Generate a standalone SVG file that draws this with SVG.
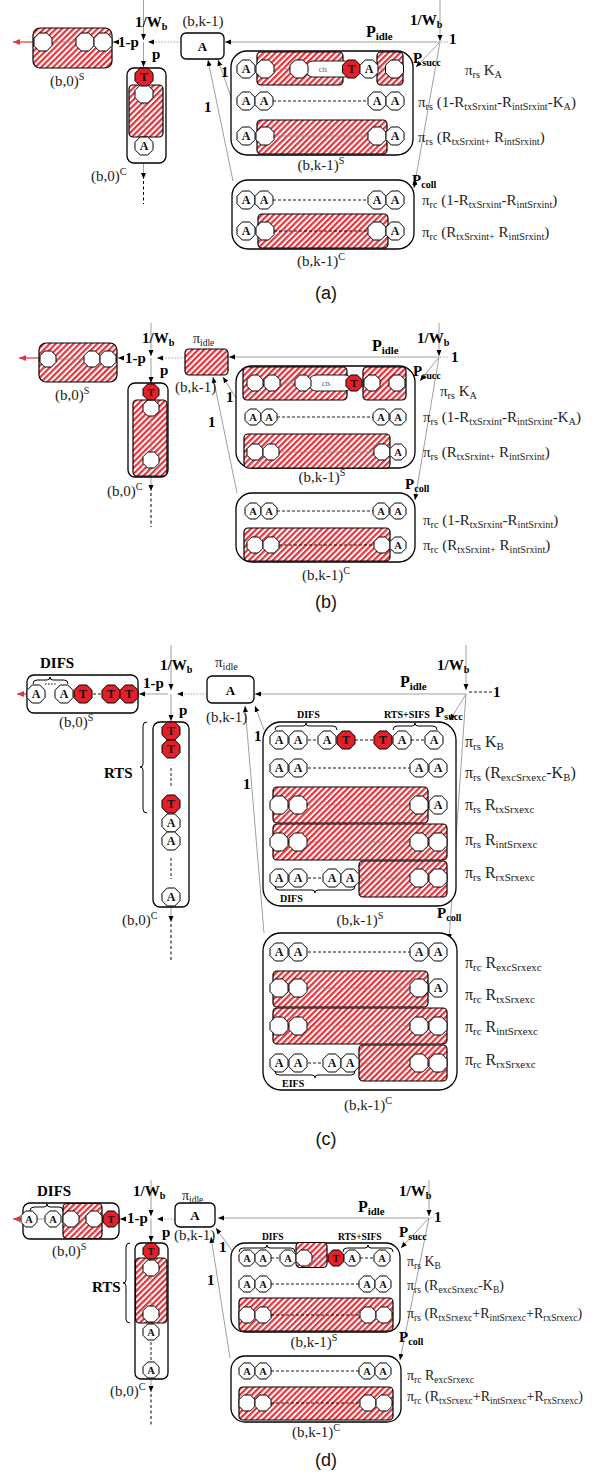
<svg xmlns="http://www.w3.org/2000/svg" xmlns:xlink="http://www.w3.org/1999/xlink" width="601" height="1474" viewBox="0 0 601 1474">
<defs>
<pattern id="h" width="4.2" height="4.2" patternUnits="userSpaceOnUse" patternTransform="rotate(45)"><rect width="4.2" height="4.2" fill="#fff"/><rect width="2.2" height="4.2" fill="#e8323a"/></pattern>
<polygon id="oL" points="3.73,-9 9,-3.73 9,3.73 3.73,9 -3.73,9 -9,3.73 -9,-3.73 -3.73,-9"/>
<polygon id="oM" points="3.31,-8 8,-3.31 8,3.31 3.31,8 -3.31,8 -8,3.31 -8,-3.31 -3.31,-8"/>
<marker id="ar" viewBox="0 0 6 6" refX="6" refY="3" markerWidth="6" markerHeight="6" markerUnits="userSpaceOnUse" orient="auto"><path d="M0,0.5 L6,3 L0,5.5 z" fill="#000"/></marker>
<marker id="arr" viewBox="0 0 6 6" refX="6" refY="3" markerWidth="7" markerHeight="7" markerUnits="userSpaceOnUse" orient="auto"><path d="M0,0.5 L6,3 L0,5.5 z" fill="#e8323a"/></marker>
<style>
.w{fill:#fff;stroke:#000;stroke-width:1}
.r{fill:#e3202a;stroke:#000;stroke-width:1}
.bx{fill:#fff;stroke:#000;stroke-width:1.3}
.hb{fill:url(#h);stroke:#000;stroke-width:1.2}
.ln{stroke:#a0a0a0;stroke-width:1;fill:none}
.dt{stroke:#a0a0a0;stroke-width:1;stroke-dasharray:1.5 1.5;fill:none}
.ds{stroke:#000;stroke-width:0.9;stroke-dasharray:3 2;fill:none}
.dv{stroke:#000;stroke-width:1;stroke-dasharray:3 2.5;fill:none}
.gl{stroke:#8a8a8a;stroke-width:0.8;fill:none}
.gd{stroke:#8a8a8a;stroke-width:0.8;stroke-dasharray:3 2;fill:none}
.red{stroke:#e8323a;stroke-width:1.2;fill:none}
.br{stroke:#000;stroke-width:1;fill:none}
.t{font-family:"Liberation Serif","Times New Roman",serif;fill:#222}
.l{font-size:15px}
.b{font-weight:bold;fill:#000}
.s{font-size:68%}
.m{text-anchor:middle}
.oa{font-family:"Liberation Serif","Times New Roman",serif;font-weight:bold;font-size:12px;text-anchor:middle;fill:#111}
.om{font-size:10.5px}
.cap{font-family:"Liberation Sans",Arial,sans-serif;font-size:18px;text-anchor:middle;fill:#111}
.cts{font-family:"Liberation Serif",serif;font-size:7.5px;fill:#555;text-anchor:middle}
</style>
</defs>
<rect width="601" height="1474" fill="#fff"/>

<!-- ================= PANEL (a) ================= -->
<g id="a-connectors">
<line class="ln" x1="143.5" y1="0" x2="143.5" y2="40" marker-end="url(#ar)"/>
<line class="dt" x1="181" y1="42" x2="148" y2="42" marker-end="url(#ar)"/>
<line class="ln" x1="143.5" y1="42" x2="143.5" y2="67" marker-end="url(#ar)"/>
<line class="ln" x1="118" y1="42" x2="113" y2="42" marker-end="url(#ar)"/>
<line class="red" x1="33" y1="42" x2="13" y2="42" marker-end="url(#arr)"/>
<line class="ln" x1="143.5" y1="163" x2="143.5" y2="179" marker-end="url(#ar)"/>
<line class="dv" x1="143.5" y1="181" x2="143.5" y2="204"/>
<line class="ln" x1="440" y1="0" x2="440" y2="41" marker-end="url(#ar)"/>
<line class="dt" x1="441" y1="42" x2="448" y2="42"/>
<line class="ln" x1="440" y1="42" x2="225" y2="42" marker-end="url(#ar)"/>
<line class="ln" x1="440" y1="42" x2="416" y2="67" marker-end="url(#ar)"/>
<line class="ln" x1="440" y1="42" x2="414" y2="188" marker-end="url(#ar)"/>
<line class="ln" x1="232" y1="100" x2="218" y2="60" marker-end="url(#ar)"/>
<line class="ln" x1="233" y1="181" x2="208" y2="60" marker-end="url(#ar)"/>
</g>
<g id="a-b0S">
<rect class="hb" x="33" y="28" width="79" height="40" rx="7"/>
<line class="gl" x1="52" y1="42" x2="76" y2="42"/>
<use href="#oL" class="w" x="43" y="42"/>
<use href="#oL" class="w" x="85" y="42"/>
<use href="#oL" class="w" x="103" y="42"/>
<text class="t l" x="50" y="86">(b,0)<tspan class="s" dy="-6">S</tspan></text>
</g>
<g id="a-b0C">
<rect class="bx" x="127" y="68" width="39" height="95" rx="7"/>
<rect class="hb" x="129" y="85" width="34" height="52" rx="4"/>
<line class="gl" x1="144" y1="104" x2="144" y2="128"/>
<use href="#oL" class="w" x="144" y="94"/>
<use href="#oL" class="r" x="144" y="77"/><text class="oa" x="144" y="81.2">T</text>
<use href="#oL" class="w" x="144" y="146"/><text class="oa" x="144" y="150.2">A</text>
<text class="t l" x="91" y="181">(b,0)<tspan class="s" dy="-6">C</tspan></text>
</g>
<g id="a-idle">
<rect class="bx" x="181" y="33" width="43" height="26" rx="5"/>
<text class="t b m" x="202.5" y="50.5" font-size="13">A</text>
<text class="t l m" x="203" y="26">(b,k-1)</text>
</g>
<g id="a-kS">
<rect class="bx" x="231" y="51" width="182" height="104" rx="16"/>
<rect class="hb" x="257" y="52" width="86" height="33" rx="4"/>
<rect class="hb" x="377" y="52" width="26" height="33" rx="4"/>
<line class="gl" x1="274" y1="69" x2="290" y2="69"/>
<line class="gl" x1="378" y1="69" x2="386" y2="69"/>
<use href="#oL" class="w" x="246" y="69"/><text class="oa" x="246" y="73.2">A</text>
<use href="#oL" class="w" x="265" y="69"/>
<rect x="306" y="61" width="46" height="16" rx="7" fill="#fff" stroke="#000" stroke-width="0.9"/>
<text class="cts" x="323" y="72">cts</text>
<use href="#oL" class="w" x="299" y="69"/>
<use href="#oL" class="r" x="351.5" y="69"/><text class="oa" x="351.5" y="73.2">T</text>
<use href="#oL" class="w" x="369" y="69"/><text class="oa" x="369" y="73.2">A</text>
<use href="#oL" class="w" x="394.5" y="69"/>
<line class="ds" x1="273" y1="101" x2="368" y2="101"/>
<use href="#oL" class="w" x="246" y="101"/><text class="oa" x="246" y="105.2">A</text>
<use href="#oL" class="w" x="264" y="101"/><text class="oa" x="264" y="105.2">A</text>
<use href="#oL" class="w" x="377" y="101"/><text class="oa" x="377" y="105.2">A</text>
<use href="#oL" class="w" x="395" y="101"/><text class="oa" x="395" y="105.2">A</text>
<rect class="hb" x="257" y="120" width="130" height="34" rx="4"/>
<line class="gl" x1="274" y1="136" x2="368" y2="136"/>
<use href="#oL" class="w" x="246" y="136"/><text class="oa" x="246" y="140.2">A</text>
<use href="#oL" class="w" x="265" y="136"/>
<use href="#oL" class="w" x="377" y="136"/>
<use href="#oL" class="w" x="395" y="136"/><text class="oa" x="395" y="140.2">A</text>
<text class="t l m" x="321" y="170">(b,k-1)<tspan class="s" dy="-6">S</tspan></text>
</g>
<g id="a-kC">
<rect class="bx" x="232" y="180" width="182" height="69" rx="16"/>
<line class="ds" x1="273" y1="200" x2="368" y2="200"/>
<use href="#oL" class="w" x="246" y="200"/><text class="oa" x="246" y="204.2">A</text>
<use href="#oL" class="w" x="264" y="200"/><text class="oa" x="264" y="204.2">A</text>
<use href="#oL" class="w" x="377" y="200"/><text class="oa" x="377" y="204.2">A</text>
<use href="#oL" class="w" x="395" y="200"/><text class="oa" x="395" y="204.2">A</text>
<rect class="hb" x="258" y="214" width="130" height="34" rx="4"/>
<line class="ds" x1="274" y1="231" x2="368" y2="231"/>
<use href="#oL" class="w" x="246" y="231"/><text class="oa" x="246" y="235.2">A</text>
<use href="#oL" class="w" x="265" y="231"/>
<use href="#oL" class="w" x="377" y="231"/>
<use href="#oL" class="w" x="395" y="231"/><text class="oa" x="395" y="235.2">A</text>
<text class="t l m" x="321" y="266">(b,k-1)<tspan class="s" dy="-6">C</tspan></text>
</g>
<g id="a-labels">
<text class="t b" x="135" y="27" font-size="15">1/W<tspan class="s" dy="3">b</tspan></text>
<text class="t b" x="118" y="47" font-size="15">1-p</text>
<text class="t b" x="152" y="59" font-size="15">p</text>
<text class="t b" x="366" y="37" font-size="16">P<tspan class="s" dy="3">idle</tspan></text>
<text class="t b" x="410" y="25" font-size="15">1/W<tspan class="s" dy="3">b</tspan></text>
<text class="t b" x="449" y="44" font-size="15">1</text>
<text class="t b" x="413" y="63" font-size="15">P<tspan class="s" dy="3">succ</tspan></text>
<text class="t b" x="412" y="185" font-size="15">P<tspan class="s" dy="3">coll</tspan></text>
<text class="t b" x="221" y="77" font-size="15">1</text>
<text class="t b" x="204" y="112" font-size="15">1</text>
</g>
<g id="a-rates" class="t l">
<text x="465" y="75">π<tspan class="s" dy="3">rs</tspan><tspan dy="-3"> K</tspan><tspan class="s" dy="3">A</tspan></text>
<text x="418" y="107">π<tspan class="s" dy="3">rs</tspan><tspan dy="-3"> (1-R</tspan><tspan class="s" dy="3">txSrxint</tspan><tspan dy="-3">-R</tspan><tspan class="s" dy="3">intSrxint</tspan><tspan dy="-3">-K</tspan><tspan class="s" dy="3">A</tspan><tspan dy="-3">)</tspan></text>
<text x="418" y="142">π<tspan class="s" dy="3">rs</tspan><tspan dy="-3"> (R</tspan><tspan class="s" dy="3">txSrxint+</tspan><tspan dy="-3"> R</tspan><tspan class="s" dy="3">intSrxint</tspan><tspan dy="-3">)</tspan></text>
<text x="422" y="205">π<tspan class="s" dy="3">rc</tspan><tspan dy="-3"> (1-R</tspan><tspan class="s" dy="3">txSrxint</tspan><tspan dy="-3">-R</tspan><tspan class="s" dy="3">intSrxint</tspan><tspan dy="-3">)</tspan></text>
<text x="422" y="237">π<tspan class="s" dy="3">rc</tspan><tspan dy="-3"> (R</tspan><tspan class="s" dy="3">txSrxint+</tspan><tspan dy="-3"> R</tspan><tspan class="s" dy="3">intSrxint</tspan><tspan dy="-3">)</tspan></text>
</g>
<text class="cap" x="326" y="299">(a)</text>

<!-- ================= PANEL (b) ================= -->
<g id="b-connectors">
<line class="ln" x1="151" y1="323" x2="151" y2="356" marker-end="url(#ar)"/>
<line class="dt" x1="185" y1="358" x2="157" y2="358" marker-end="url(#ar)"/>
<line class="ln" x1="151" y1="358" x2="151" y2="383" marker-end="url(#ar)"/>
<line class="ln" x1="123" y1="358" x2="118" y2="358" marker-end="url(#ar)"/>
<line class="red" x1="39" y1="358" x2="19" y2="358" marker-end="url(#arr)"/>
<line class="ln" x1="151" y1="477" x2="151" y2="491" marker-end="url(#ar)"/>
<line class="dv" x1="151" y1="493" x2="151" y2="527"/>
<line class="ln" x1="439" y1="323" x2="439" y2="356" marker-end="url(#ar)"/>
<line class="dt" x1="440" y1="357" x2="448" y2="357"/>
<line class="ln" x1="439" y1="357" x2="229" y2="357" marker-end="url(#ar)"/>
<line class="ln" x1="439" y1="357" x2="420" y2="381" marker-end="url(#ar)"/>
<line class="ln" x1="439" y1="357" x2="415" y2="500" marker-end="url(#ar)"/>
<line class="ln" x1="236" y1="398" x2="223" y2="377" marker-end="url(#ar)"/>
<line class="ln" x1="237" y1="493" x2="213" y2="377" marker-end="url(#ar)"/>
</g>
<g id="b-b0S">
<rect class="hb" x="39" y="343" width="78" height="39" rx="7"/>
<line class="gl" x1="56" y1="359" x2="84" y2="359"/>
<use href="#oM" class="w" x="48" y="359"/>
<use href="#oM" class="w" x="92" y="359"/>
<use href="#oM" class="w" x="108" y="359"/>
<text class="t l" x="55" y="400">(b,0)<tspan class="s" dy="-6">S</tspan></text>
</g>
<g id="b-b0C">
<rect class="bx" x="128" y="383" width="40" height="94" rx="7"/>
<rect class="hb" x="133" y="400" width="34" height="76" rx="4"/>
<line class="gl" x1="151" y1="417" x2="151" y2="451"/>
<use href="#oM" class="w" x="151" y="408"/>
<use href="#oM" class="w" x="151" y="460"/>
<use href="#oM" class="r" x="151" y="392"/><text class="oa om" x="151" y="395.8">T</text>
<text class="t l" x="107" y="496">(b,0)<tspan class="s" dy="-6">C</tspan></text>
</g>
<g id="b-idle">
<rect class="hb" x="185" y="349" width="43" height="26" rx="4"/>
<text class="t" x="193" y="343" font-size="14">π<tspan class="s" dy="3">idle</tspan></text>
<text class="t l" x="175" y="392">(b,k-1)</text>
</g>
<g id="b-kS">
<rect class="bx" x="236" y="366" width="179" height="102" rx="16"/>
<rect class="hb" x="243" y="367" width="104" height="33" rx="4"/>
<rect class="hb" x="363" y="367" width="43" height="33" rx="4"/>
<line class="gl" x1="280" y1="383" x2="295" y2="383"/>
<line class="gl" x1="380" y1="383" x2="389" y2="383"/>
<use href="#oM" class="w" x="255" y="383"/>
<use href="#oM" class="w" x="272" y="383"/>
<rect x="309" y="375" width="43" height="16" rx="7" fill="#fff" stroke="#000" stroke-width="0.9"/>
<text class="cts" x="326" y="386">cts</text>
<use href="#oM" class="w" x="303" y="383"/>
<use href="#oM" class="r" x="354" y="383"/><text class="oa om" x="354" y="386.8">T</text>
<use href="#oM" class="w" x="372" y="383"/>
<use href="#oM" class="w" x="397" y="383"/>
<line class="ds" x1="277" y1="417" x2="373" y2="417"/>
<use href="#oM" class="w" x="253" y="417"/><text class="oa om" x="253" y="420.7">A</text>
<use href="#oM" class="w" x="269" y="417"/><text class="oa om" x="269" y="420.7">A</text>
<use href="#oM" class="w" x="381" y="417"/><text class="oa om" x="381" y="420.7">A</text>
<use href="#oM" class="w" x="398" y="417"/><text class="oa om" x="398" y="420.7">A</text>
<rect class="hb" x="244" y="434" width="146" height="34" rx="4"/>
<line class="gl" x1="279" y1="452" x2="374" y2="452"/>
<use href="#oM" class="w" x="255" y="452"/>
<use href="#oM" class="w" x="271" y="452"/>
<use href="#oM" class="w" x="382" y="452"/>
<use href="#oM" class="w" x="398" y="452"/><text class="oa om" x="398" y="455.7">A</text>
<text class="t l m" x="322" y="482">(b,k-1)<tspan class="s" dy="-6">S</tspan></text>
</g>
<g id="b-kC">
<rect class="bx" x="236" y="493" width="179" height="69" rx="16"/>
<line class="ds" x1="277" y1="511" x2="373" y2="511"/>
<use href="#oM" class="w" x="253" y="511"/><text class="oa om" x="253" y="514.7">A</text>
<use href="#oM" class="w" x="269" y="511"/><text class="oa om" x="269" y="514.7">A</text>
<use href="#oM" class="w" x="381" y="511"/><text class="oa om" x="381" y="514.7">A</text>
<use href="#oM" class="w" x="398" y="511"/><text class="oa om" x="398" y="514.7">A</text>
<rect class="hb" x="244" y="528" width="146" height="33" rx="4"/>
<line class="ds" x1="279" y1="545" x2="374" y2="545"/>
<use href="#oM" class="w" x="255" y="545"/>
<use href="#oM" class="w" x="271" y="545"/>
<use href="#oM" class="w" x="382" y="545"/>
<use href="#oM" class="w" x="398" y="545"/><text class="oa om" x="398" y="548.7">A</text>
<text class="t l m" x="326" y="580">(b,k-1)<tspan class="s" dy="-6">C</tspan></text>
</g>
<g id="b-labels">
<text class="t b" x="142" y="343" font-size="15">1/W<tspan class="s" dy="3">b</tspan></text>
<text class="t b" x="125" y="363" font-size="15">1-p</text>
<text class="t b" x="160" y="375" font-size="15">p</text>
<text class="t b" x="372" y="351" font-size="16">P<tspan class="s" dy="3">idle</tspan></text>
<text class="t b" x="417" y="343" font-size="15">1/W<tspan class="s" dy="3">b</tspan></text>
<text class="t b" x="451" y="362" font-size="15">1</text>
<text class="t b" x="413" y="376" font-size="15">P<tspan class="s" dy="3">succ</tspan></text>
<text class="t b" x="405" y="489" font-size="15">P<tspan class="s" dy="3">coll</tspan></text>
<text class="t b" x="226" y="402" font-size="15">1</text>
<text class="t b" x="208" y="427" font-size="15">1</text>
</g>
<g id="b-rates" class="t l">
<text x="440" y="396">π<tspan class="s" dy="3">rs</tspan><tspan dy="-3"> K</tspan><tspan class="s" dy="3">A</tspan></text>
<text x="423" y="422">π<tspan class="s" dy="3">rs</tspan><tspan dy="-3"> (1-R</tspan><tspan class="s" dy="3">txSrxint</tspan><tspan dy="-3">-R</tspan><tspan class="s" dy="3">intSrxint</tspan><tspan dy="-3">-K</tspan><tspan class="s" dy="3">A</tspan><tspan dy="-3">)</tspan></text>
<text x="423" y="457">π<tspan class="s" dy="3">rs</tspan><tspan dy="-3"> (R</tspan><tspan class="s" dy="3">txSrxint+</tspan><tspan dy="-3"> R</tspan><tspan class="s" dy="3">intSrxint</tspan><tspan dy="-3">)</tspan></text>
<text x="423" y="525">π<tspan class="s" dy="3">rc</tspan><tspan dy="-3"> (1-R</tspan><tspan class="s" dy="3">txSrxint</tspan><tspan dy="-3">-R</tspan><tspan class="s" dy="3">intSrxint</tspan><tspan dy="-3">)</tspan></text>
<text x="423" y="550">π<tspan class="s" dy="3">rc</tspan><tspan dy="-3"> (R</tspan><tspan class="s" dy="3">txSrxint+</tspan><tspan dy="-3"> R</tspan><tspan class="s" dy="3">intSrxint</tspan><tspan dy="-3">)</tspan></text>
</g>
<text class="cap" x="326" y="608">(b)</text>

<!-- ================= PANEL (c) ================= -->
<g id="c-connectors">
<line class="ln" x1="171" y1="645" x2="171" y2="690" marker-end="url(#ar)"/>
<line class="dt" x1="207" y1="694" x2="177" y2="694" marker-end="url(#ar)"/>
<line class="ln" x1="171" y1="694" x2="171" y2="721" marker-end="url(#ar)"/>
<line class="ln" x1="168" y1="694" x2="139" y2="694" marker-end="url(#ar)"/>
<line class="red" x1="27" y1="694" x2="17" y2="694" marker-end="url(#arr)"/>
<line class="ln" x1="171" y1="907" x2="171" y2="922" marker-end="url(#ar)"/>
<line class="dv" x1="171" y1="924" x2="171" y2="960"/>
<line class="ln" x1="466" y1="645" x2="466" y2="690" marker-end="url(#ar)"/>
<line class="ds" x1="469" y1="692" x2="492" y2="692"/>
<line class="ln" x1="466" y1="694" x2="255" y2="694" marker-end="url(#ar)"/>
<line class="ln" x1="466" y1="694" x2="450" y2="720" marker-end="url(#ar)"/>
<line class="ln" x1="466" y1="694" x2="449" y2="940" marker-end="url(#ar)"/>
<line class="ln" x1="264" y1="730" x2="255" y2="706" marker-end="url(#ar)"/>
<line class="ln" x1="264" y1="933" x2="245" y2="706" marker-end="url(#ar)"/>
</g>
<g id="c-b0S">
<text class="t b" x="40" y="668" font-size="15">DIFS</text>
<rect class="bx" x="27" y="675" width="111" height="38" rx="7"/>
<path class="br" d="M33,684 Q33,680 37,680 L47,680 Q50,680 50,677 Q50,680 53,680 L64,680 Q68,680 68,684"/>
<line class="dt" x1="45" y1="684" x2="57" y2="684" style="stroke:#000"/>
<line class="ds" x1="93" y1="694" x2="102" y2="694"/>
<use href="#oL" class="w" x="36" y="694"/><text class="oa" x="36" y="698.2">A</text>
<use href="#oL" class="w" x="64" y="694"/><text class="oa" x="64" y="698.2">A</text>
<use href="#oL" class="r" x="83" y="694"/><text class="oa" x="83" y="698.2">T</text>
<use href="#oL" class="r" x="111" y="694"/><text class="oa" x="111" y="698.2">T</text>
<use href="#oL" class="r" x="129" y="694"/><text class="oa" x="129" y="698.2">T</text>
<text class="t l" x="59" y="727">(b,0)<tspan class="s" dy="-6">S</tspan></text>
</g>
<g id="c-b0C">
<rect class="bx" x="153" y="722" width="36" height="185" rx="7"/>
<line class="ds" x1="171" y1="768" x2="171" y2="788"/>
<line class="ds" x1="171" y1="858" x2="171" y2="879"/>
<use href="#oL" class="r" x="171" y="731"/><text class="oa" x="171" y="735.2">T</text>
<use href="#oL" class="r" x="171" y="749"/><text class="oa" x="171" y="753.2">T</text>
<use href="#oL" class="r" x="171" y="804"/><text class="oa" x="171" y="808.2">T</text>
<use href="#oL" class="w" x="171" y="823"/><text class="oa" x="171" y="827.2">A</text>
<use href="#oL" class="w" x="171" y="841"/><text class="oa" x="171" y="845.2">A</text>
<use href="#oL" class="w" x="171" y="897"/><text class="oa" x="171" y="901.2">A</text>
<path class="br" d="M147,722 Q143,722 143,726 L143,764 Q143,767 140,767 Q143,767 143,770 L143,809 Q143,813 147,813"/>
<text class="t b" x="104" y="778" font-size="15">RTS</text>
<text class="t l" x="122" y="925">(b,0)<tspan class="s" dy="-6">C</tspan></text>
</g>
<g id="c-idle">
<rect class="bx" x="207" y="676" width="47" height="27" rx="5"/>
<text class="t b m" x="230.5" y="694.5" font-size="13">A</text>
<text class="t" x="215" y="667" font-size="15">π<tspan class="s" dy="3">idle</tspan></text>
<text class="t l" x="206" y="722">(b,k-1)</text>
</g>
<g id="c-kS">
<rect class="bx" x="263" y="722" width="193" height="184" rx="18"/>
<text class="t b" x="297" y="718" font-size="10">DIFS</text>
<path class="br" d="M275,730 Q275,726 279,726 L303,726 Q306,726 306,723 Q306,726 309,726 L333,726 Q337,726 337,730"/>
<text class="t b" x="384" y="718" font-size="10">RTS+SIFS</text>
<path class="br" d="M393,730 Q393,726 397,726 L412,726 Q415,726 415,723 Q415,726 418,726 L433,726 Q437,726 437,730"/>
<line class="ds" x1="308" y1="740" x2="318" y2="740"/>
<line class="ds" x1="355" y1="740" x2="374" y2="740"/>
<line class="ds" x1="411" y1="740" x2="425" y2="740"/>
<use href="#oL" class="w" x="279" y="740"/><text class="oa" x="279" y="744.2">A</text>
<use href="#oL" class="w" x="298" y="740"/><text class="oa" x="298" y="744.2">A</text>
<use href="#oL" class="w" x="327" y="740"/><text class="oa" x="327" y="744.2">A</text>
<use href="#oL" class="r" x="346" y="740"/><text class="oa" x="346" y="744.2">T</text>
<use href="#oL" class="r" x="383" y="740"/><text class="oa" x="383" y="744.2">T</text>
<use href="#oL" class="w" x="402" y="740"/><text class="oa" x="402" y="744.2">A</text>
<use href="#oL" class="w" x="434" y="740"/><text class="oa" x="434" y="744.2">A</text>
<line class="ds" x1="308" y1="768" x2="410" y2="768"/>
<use href="#oL" class="w" x="279" y="768"/><text class="oa" x="279" y="772.2">A</text>
<use href="#oL" class="w" x="298" y="768"/><text class="oa" x="298" y="772.2">A</text>
<use href="#oL" class="w" x="419" y="768"/><text class="oa" x="419" y="772.2">A</text>
<use href="#oL" class="w" x="438" y="768"/><text class="oa" x="438" y="772.2">A</text>
<rect class="hb" x="273" y="787" width="155" height="36" rx="4"/>
<line class="gd" x1="308" y1="805" x2="410" y2="805"/>
<use href="#oL" class="w" x="279" y="805"/>
<use href="#oL" class="w" x="298" y="805"/>
<use href="#oL" class="w" x="419" y="805"/>
<use href="#oL" class="w" x="438" y="805"/><text class="oa" x="438" y="809.2">A</text>
<rect class="hb" x="273" y="824" width="174" height="36" rx="4"/>
<line class="gd" x1="308" y1="842" x2="410" y2="842"/>
<use href="#oL" class="w" x="279" y="842"/>
<use href="#oL" class="w" x="298" y="842"/>
<use href="#oL" class="w" x="419" y="842"/>
<use href="#oL" class="w" x="438" y="842"/>
<rect class="hb" x="359" y="861" width="88" height="36" rx="4"/>
<line class="gd" x1="360" y1="878" x2="410" y2="878"/>
<line class="ds" x1="308" y1="878" x2="323" y2="878"/>
<use href="#oL" class="w" x="279" y="878"/><text class="oa" x="279" y="882.2">A</text>
<use href="#oL" class="w" x="298" y="878"/><text class="oa" x="298" y="882.2">A</text>
<use href="#oL" class="w" x="332" y="878"/><text class="oa" x="332" y="882.2">A</text>
<use href="#oL" class="w" x="350" y="878"/><text class="oa" x="350" y="882.2">A</text>
<use href="#oL" class="w" x="419" y="878"/>
<use href="#oL" class="w" x="438" y="878"/>
<path class="br" d="M275,886 Q275,890 279,890 L312,890 Q315,890 315,893 Q315,890 318,890 L351,890 Q355,890 355,886"/>
<text class="t b" x="280" y="902" font-size="10">DIFS</text>
<text class="t l m" x="360" y="925">(b,k-1)<tspan class="s" dy="-6">S</tspan></text>
</g>
<g id="c-kC">
<rect class="bx" x="263" y="933" width="194" height="157" rx="18"/>
<line class="ds" x1="308" y1="952" x2="410" y2="952"/>
<use href="#oL" class="w" x="279" y="952"/><text class="oa" x="279" y="956.2">A</text>
<use href="#oL" class="w" x="298" y="952"/><text class="oa" x="298" y="956.2">A</text>
<use href="#oL" class="w" x="419" y="952"/><text class="oa" x="419" y="956.2">A</text>
<use href="#oL" class="w" x="438" y="952"/><text class="oa" x="438" y="956.2">A</text>
<rect class="hb" x="273" y="971" width="155" height="36" rx="4"/>
<line class="gd" x1="308" y1="988" x2="410" y2="988"/>
<use href="#oL" class="w" x="279" y="988"/>
<use href="#oL" class="w" x="298" y="988"/>
<use href="#oL" class="w" x="419" y="988"/>
<use href="#oL" class="w" x="438" y="988"/><text class="oa" x="438" y="992.2">A</text>
<rect class="hb" x="273" y="1008" width="174" height="36" rx="4"/>
<line class="gd" x1="308" y1="1026" x2="410" y2="1026"/>
<use href="#oL" class="w" x="279" y="1026"/>
<use href="#oL" class="w" x="298" y="1026"/>
<use href="#oL" class="w" x="419" y="1026"/>
<use href="#oL" class="w" x="438" y="1026"/>
<rect class="hb" x="359" y="1045" width="88" height="36" rx="4"/>
<line class="gd" x1="360" y1="1063" x2="410" y2="1063"/>
<line class="ds" x1="308" y1="1063" x2="323" y2="1063"/>
<use href="#oL" class="w" x="279" y="1063"/><text class="oa" x="279" y="1067.2">A</text>
<use href="#oL" class="w" x="298" y="1063"/><text class="oa" x="298" y="1067.2">A</text>
<use href="#oL" class="w" x="332" y="1063"/><text class="oa" x="332" y="1067.2">A</text>
<use href="#oL" class="w" x="350" y="1063"/><text class="oa" x="350" y="1067.2">A</text>
<use href="#oL" class="w" x="419" y="1063"/>
<use href="#oL" class="w" x="438" y="1063"/>
<path class="br" d="M275,1071 Q275,1075 279,1075 L312,1075 Q315,1075 315,1078 Q315,1075 318,1075 L351,1075 Q355,1075 355,1071"/>
<text class="t b" x="282" y="1087" font-size="10">EIFS</text>
<text class="t l m" x="368" y="1110">(b,k-1)<tspan class="s" dy="-6">C</tspan></text>
</g>
<g id="c-labels">
<text class="t b" x="160" y="670" font-size="15">1/W<tspan class="s" dy="3">b</tspan></text>
<text class="t b" x="143" y="688" font-size="15">1-p</text>
<text class="t b" x="179" y="715" font-size="15">p</text>
<text class="t b" x="400" y="687" font-size="16">P<tspan class="s" dy="3">idle</tspan></text>
<text class="t b" x="437" y="670" font-size="15">1/W<tspan class="s" dy="3">b</tspan></text>
<text class="t b" x="493" y="697" font-size="15">1</text>
<text class="t b" x="435" y="717" font-size="15">P<tspan class="s" dy="3">succ</tspan></text>
<text class="t b" x="437" y="918" font-size="15">P<tspan class="s" dy="3">coll</tspan></text>
<text class="t b" x="254" y="741" font-size="15">1</text>
<text class="t b" x="243" y="789" font-size="15">1</text>
</g>
<g id="c-rates" class="t" font-size="16">
<text x="465" y="747">π<tspan class="s" dy="3">rs</tspan><tspan dy="-3"> K</tspan><tspan class="s" dy="3">B</tspan></text>
<text x="465" y="778">π<tspan class="s" dy="3">rs</tspan><tspan dy="-3"> (R</tspan><tspan class="s" dy="3">excSrxexc</tspan><tspan dy="-3">-K</tspan><tspan class="s" dy="3">B</tspan><tspan dy="-3">)</tspan></text>
<text x="465" y="810">π<tspan class="s" dy="3">rs</tspan><tspan dy="-3"> R</tspan><tspan class="s" dy="3">txSrxexc</tspan></text>
<text x="465" y="845">π<tspan class="s" dy="3">rs</tspan><tspan dy="-3"> R</tspan><tspan class="s" dy="3">intSrxexc</tspan></text>
<text x="465" y="878">π<tspan class="s" dy="3">rs</tspan><tspan dy="-3"> R</tspan><tspan class="s" dy="3">rxSrxexc</tspan></text>
<text x="465" y="968">π<tspan class="s" dy="3">rc</tspan><tspan dy="-3"> R</tspan><tspan class="s" dy="3">excSrxexc</tspan></text>
<text x="465" y="1000">π<tspan class="s" dy="3">rc</tspan><tspan dy="-3"> R</tspan><tspan class="s" dy="3">txSrxexc</tspan></text>
<text x="465" y="1032">π<tspan class="s" dy="3">rc</tspan><tspan dy="-3"> R</tspan><tspan class="s" dy="3">intSrxexc</tspan></text>
<text x="465" y="1065">π<tspan class="s" dy="3">rc</tspan><tspan dy="-3"> R</tspan><tspan class="s" dy="3">rxSrxexc</tspan></text>
</g>
<text class="cap" x="326" y="1145">(c)</text>

<!-- ================= PANEL (d) ================= -->
<g id="d-connectors">
<line class="ln" x1="151" y1="1180" x2="151" y2="1216" marker-end="url(#ar)"/>
<line class="dt" x1="175" y1="1219" x2="157" y2="1219" marker-end="url(#ar)"/>
<line class="ln" x1="151" y1="1219" x2="151" y2="1242" marker-end="url(#ar)"/>
<line class="ln" x1="126" y1="1219" x2="120" y2="1219" marker-end="url(#ar)"/>
<line class="red" x1="23" y1="1219" x2="13" y2="1219" marker-end="url(#arr)"/>
<line class="ln" x1="151" y1="1379" x2="151" y2="1392" marker-end="url(#ar)"/>
<line class="dv" x1="151" y1="1394" x2="151" y2="1427"/>
<line class="ln" x1="429" y1="1180" x2="429" y2="1216" marker-end="url(#ar)"/>
<line class="dt" x1="430" y1="1218" x2="434" y2="1218"/>
<line class="ln" x1="429" y1="1218" x2="218" y2="1218" marker-end="url(#ar)"/>
<line class="ln" x1="429" y1="1218" x2="401" y2="1248" marker-end="url(#ar)"/>
<line class="ln" x1="429" y1="1218" x2="400" y2="1360" marker-end="url(#ar)"/>
<line class="ln" x1="233" y1="1252" x2="216" y2="1228" marker-end="url(#ar)"/>
<line class="ln" x1="230" y1="1358" x2="211" y2="1237" marker-end="url(#ar)"/>
</g>
<g id="d-b0S">
<text class="t b" x="37" y="1196" font-size="15">DIFS</text>
<rect class="bx" x="23" y="1203" width="96" height="36" rx="7"/>
<rect class="hb" x="63" y="1203.5" width="39" height="35" rx="4"/>
<path class="br" d="M30,1211 Q30,1207 34,1207 L44,1207 Q47,1207 47,1204 Q47,1207 50,1207 L59,1207 Q63,1207 63,1211"/>
<line class="gl" x1="37" y1="1219" x2="45" y2="1219"/>
<line class="gl" x1="79" y1="1219" x2="86" y2="1219"/>
<use href="#oM" class="w" x="29" y="1219"/><text class="oa om" x="29" y="1222.7">A</text>
<use href="#oM" class="w" x="53" y="1219"/><text class="oa om" x="53" y="1222.7">A</text>
<use href="#oM" class="w" x="71" y="1219"/>
<use href="#oM" class="w" x="94" y="1219"/>
<use href="#oM" class="r" x="111" y="1219"/><text class="oa om" x="111" y="1222.7">T</text>
<text class="t l" x="52" y="1256">(b,0)<tspan class="s" dy="-6">S</tspan></text>
</g>
<g id="d-b0C">
<rect class="bx" x="135" y="1243" width="33" height="136" rx="6"/>
<rect class="hb" x="135.5" y="1258" width="31.5" height="65" rx="4"/>
<line class="gd" x1="151" y1="1277" x2="151" y2="1305"/>
<use href="#oM" class="w" x="151" y="1268"/>
<use href="#oM" class="w" x="151" y="1314"/>
<use href="#oM" class="r" x="151" y="1251"/><text class="oa om" x="151" y="1254.7">T</text>
<line class="ds" x1="151" y1="1342" x2="151" y2="1361"/>
<use href="#oM" class="w" x="151" y="1332"/><text class="oa om" x="151" y="1335.7">A</text>
<use href="#oM" class="w" x="151" y="1370"/><text class="oa om" x="151" y="1373.7">A</text>
<path class="br" d="M130,1243 Q126,1243 126,1247 L126,1280 Q126,1283 123,1283 Q126,1283 126,1286 L126,1319 Q126,1323 130,1323"/>
<text class="t b" x="92" y="1292" font-size="15">RTS</text>
<text class="t l" x="110" y="1396">(b,0)<tspan class="s" dy="-6">C</tspan></text>
</g>
<g id="d-idle">
<rect class="bx" x="175" y="1203" width="40" height="24" rx="5"/>
<text class="t b m" x="195" y="1220" font-size="13">A</text>
<text class="t" x="182" y="1200" font-size="14">π<tspan class="s" dy="3">idle</tspan></text>
<text class="t l" x="174" y="1240">(b,k-1)</text>
</g>
<g id="d-kS">
<rect class="bx" x="231" y="1243" width="169" height="89" rx="14"/>
<text class="t b" x="262" y="1240" font-size="9.5">DIFS</text>
<path class="br" d="M239,1252 Q239,1248 243,1248 L264,1248 Q267,1248 267,1245 Q267,1248 270,1248 L291,1248 Q295,1248 295,1252"/>
<text class="t b" x="338" y="1240" font-size="9.5">RTS+SIFS</text>
<path class="br" d="M343,1252 Q343,1248 347,1248 L365,1248 Q368,1248 368,1245 Q368,1248 371,1248 L389,1248 Q393,1248 393,1252"/>
<rect class="hb" x="296" y="1242.5" width="31" height="25" rx="4"/>
<line class="ds" x1="271" y1="1258" x2="280" y2="1258"/>
<line class="gl" x1="312" y1="1258" x2="328" y2="1258"/>
<line class="ds" x1="360" y1="1258" x2="374" y2="1258"/>
<use href="#oM" class="w" x="247" y="1258"/><text class="oa om" x="247" y="1261.7">A</text>
<use href="#oM" class="w" x="263" y="1258"/><text class="oa om" x="263" y="1261.7">A</text>
<use href="#oM" class="w" x="288" y="1258"/><text class="oa om" x="288" y="1261.7">A</text>
<use href="#oM" class="w" x="304" y="1258"/>
<use href="#oM" class="r" x="336" y="1258"/><text class="oa om" x="336" y="1261.7">T</text>
<use href="#oM" class="w" x="352" y="1258"/><text class="oa om" x="352" y="1261.7">A</text>
<use href="#oM" class="w" x="382" y="1258"/><text class="oa om" x="382" y="1261.7">A</text>
<line class="ds" x1="271" y1="1284" x2="359" y2="1284"/>
<use href="#oM" class="w" x="247" y="1284"/><text class="oa om" x="247" y="1287.7">A</text>
<use href="#oM" class="w" x="263" y="1284"/><text class="oa om" x="263" y="1287.7">A</text>
<use href="#oM" class="w" x="367" y="1284"/><text class="oa om" x="367" y="1287.7">A</text>
<use href="#oM" class="w" x="383" y="1284"/><text class="oa om" x="383" y="1287.7">A</text>
<rect class="hb" x="239" y="1298" width="154" height="33" rx="4"/>
<line class="ds" x1="271" y1="1315" x2="360" y2="1315"/>
<use href="#oM" class="w" x="247" y="1315"/>
<use href="#oM" class="w" x="263" y="1315"/>
<use href="#oM" class="w" x="368" y="1315"/>
<use href="#oM" class="w" x="384" y="1315"/>
<text class="t l m" x="314" y="1347">(b,k-1)<tspan class="s" dy="-6">S</tspan></text>
</g>
<g id="d-kC">
<rect class="bx" x="231" y="1356" width="170" height="66" rx="14"/>
<line class="ds" x1="271" y1="1371" x2="359" y2="1371"/>
<use href="#oM" class="w" x="247" y="1371"/><text class="oa om" x="247" y="1374.7">A</text>
<use href="#oM" class="w" x="263" y="1371"/><text class="oa om" x="263" y="1374.7">A</text>
<use href="#oM" class="w" x="367" y="1371"/><text class="oa om" x="367" y="1374.7">A</text>
<use href="#oM" class="w" x="383" y="1371"/><text class="oa om" x="383" y="1374.7">A</text>
<rect class="hb" x="239" y="1387" width="154" height="33" rx="4"/>
<line class="ds" x1="271" y1="1403" x2="360" y2="1403"/>
<use href="#oM" class="w" x="247" y="1403"/>
<use href="#oM" class="w" x="263" y="1403"/>
<use href="#oM" class="w" x="368" y="1403"/>
<use href="#oM" class="w" x="384" y="1403"/>
<text class="t l m" x="316" y="1437">(b,k-1)<tspan class="s" dy="-6">C</tspan></text>
</g>
<g id="d-labels">
<text class="t b" x="133" y="1196" font-size="15">1/W<tspan class="s" dy="3">b</tspan></text>
<text class="t b" x="127" y="1223" font-size="15">1-p</text>
<text class="t b" x="162" y="1237" font-size="15">p</text>
<text class="t b" x="358" y="1212" font-size="16">P<tspan class="s" dy="3">idle</tspan></text>
<text class="t b" x="399" y="1196" font-size="15">1/W<tspan class="s" dy="3">b</tspan></text>
<text class="t b" x="434" y="1222" font-size="15">1</text>
<text class="t b" x="399" y="1237" font-size="15">P<tspan class="s" dy="3">succ</tspan></text>
<text class="t b" x="399" y="1342" font-size="15">P<tspan class="s" dy="3">coll</tspan></text>
<text class="t b" x="219" y="1252" font-size="15">1</text>
<text class="t b" x="207" y="1285" font-size="15">1</text>
</g>
<g id="d-rates" class="t" font-size="14">
<text x="407" y="1266">π<tspan class="s" dy="3">rs</tspan><tspan dy="-3"> K</tspan><tspan class="s" dy="3">B</tspan></text>
<text x="407" y="1290">π<tspan class="s" dy="3">rs</tspan><tspan dy="-3"> (R</tspan><tspan class="s" dy="3">excSrxexc</tspan><tspan dy="-3">-K</tspan><tspan class="s" dy="3">B</tspan><tspan dy="-3">)</tspan></text>
<text x="407" y="1318">π<tspan class="s" dy="3">rs</tspan><tspan dy="-3"> (R</tspan><tspan class="s" dy="3">txSrxexc</tspan><tspan dy="-3">+R</tspan><tspan class="s" dy="3">intSrxexc</tspan><tspan dy="-3">+R</tspan><tspan class="s" dy="3">rxSrxexc</tspan><tspan dy="-3">)</tspan></text>
<text x="407" y="1380">π<tspan class="s" dy="3">rc</tspan><tspan dy="-3"> R</tspan><tspan class="s" dy="3">excSrxexc</tspan></text>
<text x="407" y="1401">π<tspan class="s" dy="3">rc</tspan><tspan dy="-3"> (R</tspan><tspan class="s" dy="3">txSrxexc</tspan><tspan dy="-3">+R</tspan><tspan class="s" dy="3">intSrxexc</tspan><tspan dy="-3">+R</tspan><tspan class="s" dy="3">rxSrxexc</tspan><tspan dy="-3">)</tspan></text>
</g>
<text class="cap" x="326" y="1466">(d)</text>
</svg>
